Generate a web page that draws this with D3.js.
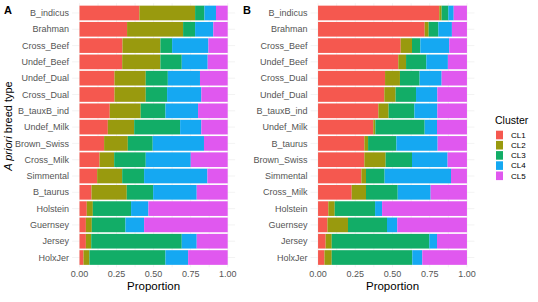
<!DOCTYPE html>
<html>
<head>
<meta charset="utf-8">
<script src="https://cdn.jsdelivr.net/npm/d3@7"></script>
<style>
  body { margin: 0; background: #fff; }
  svg { display: block; font-family: "Liberation Sans", Arial, sans-serif; }
  .tick-label { fill: #555; font-size: 9px; }
  .grid { stroke: #ebebeb; stroke-width: 0.6; }
</style>
</head>
<body>
<svg id="chart" width="538" height="302"></svg>
<script>
// cluster names and colours
const clusters = ["CL1", "CL2", "CL3", "CL4", "CL5"];
const colors = ["#f5584f", "#999a0e", "#12ad67", "#15a8f2", "#e058ef"];

// panel A: breed order and proportions per cluster
const breedsA = ["B_indicus", "Brahman", "Cross_Beef", "Undef_Beef", "Undef_Dual", "Cross_Dual",
    "B_tauxB_ind", "Undef_Milk", "Brown_Swiss", "Cross_Milk", "Simmental", "B_taurus",
    "Holstein", "Guernsey", "Jersey", "HolxJer"];
const aCL1 = [.404, .321, .290, .288, .236, .236, .204, .191, .166, .135, .119, .081, .049, .043, .043, .027];
const aCL2 = [.376, .378, .256, .258, .211, .211, .209, .178, .160, .099, .169, .238, .041, .040, .036, .040];
const aCL3 = [.063, .081, .079, .144, .149, .144, .167, .310, .168, .213, .148, .178, .258, .227, .611, .513];
const aCL4 = [.078, .123, .245, .175, .217, .231, .220, .143, .346, .304, .427, .294, .117, .126, .101, .153];
const aCL5 = [.079, .097, .130, .135, .187, .178, .200, .178, .160, .249, .137, .209, .535, .564, .209, .267];

// panel B: breed order and proportions per cluster
const breedsB = ["B_indicus", "Brahman", "Cross_Beef", "Undef_Beef", "Cross_Dual", "Undef_Dual",
    "B_tauxB_ind", "Undef_Milk", "B_taurus", "Brown_Swiss", "Simmental", "Cross_Milk",
    "Holstein", "Guernsey", "Jersey", "HolxJer"];
const bCL1 = [.814, .716, .555, .539, .450, .445, .405, .371, .311, .311, .291, .226, .069, .063, .051, .043];
const bCL2 = [.016, .027, .076, .052, .100, .076, .069, .014, .025, .143, .031, .096, .043, .138, .041, .049];
const bCL3 = [.045, .065, .056, .136, .132, .137, .173, .331, .190, .177, .125, .213, .271, .262, .655, .541];
const bCL4 = [.036, .091, .194, .145, .148, .143, .154, .083, .277, .239, .446, .221, .047, .069, .052, .067];
const bCL5 = [.089, .101, .119, .128, .170, .199, .199, .201, .197, .130, .107, .244, .570, .468, .201, .300];

const xTicks = [0, 0.25, 0.5, 0.75, 1];

const svg = d3.select("#chart");
const plotTop = 3.2, plotBottom = 267.3;

function rows(breeds, series) {
    return breeds.map((b, i) => {
        let r = {breed: b};
        clusters.forEach((c, j) => r[c] = series[j][i]);
        return r;
    });
}

function drawPanel(left, right, breeds, series, letter) {
    let g = svg.append("g");
    let x = d3.scaleLinear().domain([-0.05, 1.05]).range([left, right]);
    let y = d3.scaleBand().domain(breeds).range([plotTop, plotBottom])
        .paddingInner(0.1).paddingOuter(0.15);

    // grid lines
    g.selectAll(".gx").data(d3.range(0, 1.01, 0.125)).enter().append("line")
        .attr("class", "grid")
        .attr("x1", d => x(d)).attr("x2", d => x(d))
        .attr("y1", plotTop).attr("y2", plotBottom);
    g.selectAll(".gy").data(breeds).enter().append("line")
        .attr("class", "grid")
        .attr("x1", left).attr("x2", right)
        .attr("y1", d => y(d) + y.bandwidth() / 2).attr("y2", d => y(d) + y.bandwidth() / 2);

    let stacked = d3.stack().keys(clusters)(rows(breeds, series));
    g.selectAll(".layer").data(stacked).enter().append("g")
        .attr("fill", (d, i) => colors[i])
        .selectAll("rect").data(d => d).enter().append("rect")
        .attr("x", d => x(d[0]))
        .attr("width", d => x(d[1]) - x(d[0]))
        .attr("y", d => y(d.data.breed))
        .attr("height", y.bandwidth());

    // y labels
    g.selectAll(".yl").data(breeds).enter().append("text")
        .attr("class", "tick-label")
        .attr("x", left - 3)
        .attr("y", d => y(d) + y.bandwidth() / 2)
        .attr("dy", "0.35em")
        .attr("text-anchor", "end")
        .text(d => d);

    // x labels
    g.selectAll(".xl").data(xTicks).enter().append("text")
        .attr("class", "tick-label")
        .attr("x", d => x(d))
        .attr("y", 277)
        .attr("text-anchor", "middle")
        .text(d => d3.format(".2f")(d));

    g.append("text")
        .attr("x", (left + right) / 2)
        .attr("y", 289.5)
        .attr("text-anchor", "middle")
        .style("font-size", "11.5px")
        .text("Proportion");

    g.append("text")
        .attr("x", letter == "A" ? 4 : 243)
        .attr("y", 14)
        .style("font-size", "11px")
        .style("font-weight", "bold")
        .text(letter);
}

drawPanel(72.1, 235.1, breedsA, [aCL1, aCL2, aCL3, aCL4, aCL5], "A");
drawPanel(310.6, 474.4, breedsB, [bCL1, bCL2, bCL3, bCL4, bCL5], "B");

// y axis title
let yt = svg.append("text")
    .attr("transform", "translate(12,126) rotate(-90)")
    .attr("text-anchor", "middle")
    .style("font-size", "11px");
yt.append("tspan").style("font-style", "italic").text("A priori");
yt.append("tspan").text(" breed type");

// legend
let legend = svg.append("g").attr("transform", "translate(495,0)");
legend.append("text").attr("x", 0).attr("y", 124)
    .style("font-size", "10.5px").text("Cluster");
legend.selectAll("rect").data(clusters).enter().append("rect")
    .attr("x", 1).attr("y", (d, i) => 130.7 + i * 10.2)
    .attr("width", 7).attr("height", 8.6)
    .attr("fill", (d, i) => colors[i]);
legend.selectAll(".lt").data(clusters).enter().append("text")
    .attr("x", 16).attr("y", (d, i) => 135 + i * 10.2)
    .attr("dy", "0.35em")
    .style("font-size", "8px")
    .text(d => d);
</script>
</body>
</html>
